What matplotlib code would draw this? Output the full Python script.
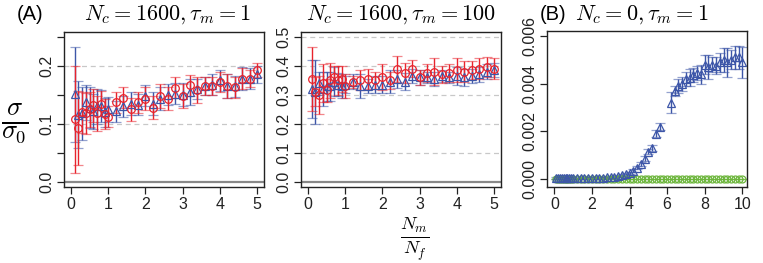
import numpy as np
import matplotlib
matplotlib.use("Agg")
import matplotlib.pyplot as plt

plt.rcParams['font.family'] = ['Liberation Sans', 'DejaVu Sans']
plt.rcParams['mathtext.fontset'] = 'cm'

# x grid for panel A (ratio Nm/Nf)
xa = [0.1, 0.2, 0.3, 0.4, 0.5, 0.6, 0.7, 0.8, 0.9, 1.0,
      1.2, 1.4, 1.6, 1.8, 2.0, 2.2, 2.4, 2.6, 2.8, 3.0,
      3.2, 3.4, 3.6, 3.8, 4.0, 4.2, 4.4, 4.6, 4.8, 5.0]

# Nc=1600, tau=1
a1_blue = [0.151, 0.116, 0.118, 0.137, 0.128, 0.122, 0.130, 0.131, 0.120, 0.125,
           0.122, 0.130, 0.135, 0.133, 0.148, 0.135, 0.143, 0.150, 0.152, 0.150,
           0.155, 0.160, 0.165, 0.167, 0.175, 0.165, 0.165, 0.178, 0.178, 0.185]
a1_blue_err = [0.082, 0.058, 0.045, 0.030, 0.035, 0.030, 0.030, 0.028, 0.025, 0.022,
               0.018, 0.018, 0.020, 0.018, 0.018, 0.020, 0.020, 0.018, 0.018, 0.020,
               0.022, 0.018, 0.015, 0.018, 0.018, 0.020, 0.018, 0.020, 0.018, 0.015]
a1_red = [0.108, 0.093, 0.120, 0.118, 0.125, 0.132, 0.118, 0.135, 0.117, 0.112,
          0.137, 0.145, 0.125, 0.137, 0.143, 0.128, 0.148, 0.143, 0.162, 0.148,
          0.166, 0.158, 0.165, 0.165, 0.172, 0.165, 0.163, 0.178, 0.178, 0.192]
a1_red_err = [0.092, 0.063, 0.035, 0.035, 0.030, 0.028, 0.030, 0.022, 0.025, 0.018,
              0.018, 0.018, 0.020, 0.018, 0.020, 0.020, 0.020, 0.020, 0.018, 0.020,
              0.018, 0.022, 0.015, 0.015, 0.018, 0.020, 0.018, 0.018, 0.015, 0.012]

# Nc=1600, tau=100
a2_blue = [0.320, 0.310, 0.340, 0.320, 0.330, 0.330, 0.345, 0.335, 0.330, 0.335,
           0.345, 0.330, 0.330, 0.335, 0.335, 0.345, 0.355, 0.345, 0.365, 0.360,
           0.360, 0.355, 0.365, 0.360, 0.365, 0.360, 0.365, 0.370, 0.380, 0.385]
a2_blue_err = [0.100, 0.110, 0.040, 0.060, 0.050, 0.050, 0.050, 0.040, 0.040, 0.030,
               0.025, 0.040, 0.025, 0.030, 0.030, 0.040, 0.030, 0.030, 0.025, 0.025,
               0.020, 0.025, 0.020, 0.020, 0.030, 0.030, 0.025, 0.025, 0.025, 0.025]
a2_red = [0.355, 0.310, 0.300, 0.340, 0.315, 0.350, 0.360, 0.350, 0.355, 0.330,
          0.345, 0.350, 0.355, 0.350, 0.360, 0.350, 0.390, 0.375, 0.390, 0.360,
          0.375, 0.380, 0.370, 0.375, 0.385, 0.380, 0.385, 0.390, 0.395, 0.390]
a2_red_err = [0.110, 0.050, 0.065, 0.065, 0.040, 0.060, 0.040, 0.050, 0.045, 0.040,
              0.020, 0.035, 0.035, 0.030, 0.045, 0.030, 0.045, 0.035, 0.030, 0.025,
              0.030, 0.045, 0.030, 0.030, 0.040, 0.035, 0.030, 0.035, 0.035, 0.035]

# panel B, Nc=0, tau=1
xb_blue = [0.1, 0.2, 0.3, 0.4, 0.5, 0.6, 0.7, 0.8, 0.9, 1.0,
           1.2, 1.4, 1.6, 1.8, 2.0, 2.2, 2.4, 2.6, 2.8, 3.0,
           3.2, 3.4, 3.6, 3.8, 4.0, 4.2, 4.4, 4.6, 4.8, 5.0,
           5.2, 5.4, 5.6, 6.2, 6.4, 6.6, 6.8, 7.0, 7.2, 7.4,
           7.6, 7.8, 8.0, 8.2, 8.4, 8.6, 8.8, 9.0, 9.2, 9.4,
           9.6, 9.8, 10.0]
b_blue = [0.00003, 0.00003, 0.00003, 0.00003, 0.00003, 0.00003, 0.00003, 0.00003, 0.00003, 0.00003,
          0.00003, 0.00003, 0.00004, 0.00004, 0.00004, 0.00005, 0.00005, 0.00006, 0.00007, 0.00008,
          0.00010, 0.00012, 0.00015, 0.00020, 0.00025, 0.00035, 0.00048, 0.00064, 0.00085, 0.00115,
          0.00130, 0.00190, 0.00220, 0.00320, 0.00370, 0.00390, 0.00400, 0.00420, 0.00425, 0.00435,
          0.00445, 0.00440, 0.00480, 0.00470, 0.00480, 0.00475, 0.00490, 0.00500, 0.00490, 0.00500,
          0.00510, 0.00510, 0.00490]
b_blue_err = [0.00004, 0.00004, 0.00004, 0.00004, 0.00004, 0.00004, 0.00004, 0.00004, 0.00004, 0.00004,
              0.00003, 0.00003, 0.00003, 0.00003, 0.00003, 0.00003, 0.00003, 0.00003, 0.00003, 0.00004,
              0.00004, 0.00004, 0.00005, 0.00005, 0.00006, 0.00007, 0.00008, 0.00009, 0.00010, 0.00012,
              0.00012, 0.00015, 0.00015, 0.00045, 0.00020, 0.00030, 0.00030, 0.00030, 0.00035, 0.00030,
              0.00030, 0.00040, 0.00040, 0.00050, 0.00030, 0.00035, 0.00040, 0.00050, 0.00060, 0.00040,
              0.00050, 0.00050, 0.00065]
xb_green = [0.1, 0.2, 0.3, 0.4, 0.5, 0.6, 0.7, 0.8, 0.9, 1.0,
            1.2, 1.4, 1.6, 1.8, 2.0, 2.2, 2.4, 2.6, 2.8, 3.0,
            3.2, 3.4, 3.6, 3.8, 4.0, 4.2, 4.4, 4.6, 4.8, 5.0,
            5.2, 5.4, 5.6, 5.8, 6.0, 6.2, 6.4, 6.6, 6.8, 7.0,
            7.2, 7.4, 7.6, 7.8, 8.0, 8.2, 8.4, 8.6, 8.8, 9.0,
            9.2, 9.4, 9.6, 9.8, 10.0]
b_green = [0.0] * len(xb_green)
b_green_err = [0.00001] * len(xb_green)

blue = '#3d56a8'
red = '#e8232c'
green = '#6bb53a'


def series(ax, x, y, err, col, marker, ms=5.5):
    line, caps, bars = ax.errorbar(x, y, yerr=err, fmt=marker, color=col, mfc='none',
                                   mec=col, ms=ms, mew=0.9, elinewidth=1.0, capsize=3.5,
                                   capthick=1.0)
    for c in caps:
        c.set_alpha(0.55)


def style(ax):
    ax.tick_params(direction='out', length=5, width=0.9, colors='#222222',
                   labelsize=11.5, pad=2)
    for s in ax.spines.values():
        s.set_color('#222222')
        s.set_linewidth(1.0)
    for lab in ax.get_yticklabels():
        lab.set_rotation(90)
        lab.set_va('center')


fig = plt.figure(figsize=(7.63, 2.63), dpi=100)
ax1 = fig.add_axes([64 / 763, 76 / 263, 200 / 763, 155 / 263])
ax2 = fig.add_axes([301 / 763, 76 / 263, 200 / 763, 155 / 263])
ax3 = fig.add_axes([547 / 763, 76 / 263, 200 / 763, 156 / 263])

# panel A left
for yv in [0.1, 0.2]:
    ax1.axhline(yv, color='#c8c8c8', ls=(0, (4, 3)), lw=0.9, zorder=0)
ax1.axhline(0, color='#888888', lw=1.6, zorder=0)
series(ax1, xa, a1_blue, a1_blue_err, blue, '^')
series(ax1, xa, a1_red, a1_red_err, red, 'o')
ax1.set_xlim(-0.19, 5.19)
ax1.set_ylim(-0.0086, 0.258)
ax1.set_xticks([0, 1, 2, 3, 4, 5])
ax1.set_yticks([0, 0.05, 0.1, 0.15, 0.2, 0.25])
ax1.set_yticklabels(['0.0', '', '0.1', '', '0.2', ''])
style(ax1)

# panel A right
for yv in [0.1, 0.2, 0.3, 0.4, 0.5]:
    ax2.axhline(yv, color='#c8c8c8', ls=(0, (4, 3)), lw=0.9, zorder=0)
ax2.axhline(0, color='#888888', lw=1.6, zorder=0)
series(ax2, xa, a2_blue, a2_blue_err, blue, '^')
series(ax2, xa, a2_red, a2_red_err, red, 'o')
ax2.set_xlim(-0.19, 5.19)
ax2.set_ylim(-0.017, 0.516)
ax2.set_xticks([0, 1, 2, 3, 4, 5])
ax2.set_yticks([0, 0.1, 0.2, 0.3, 0.4, 0.5])
ax2.set_yticklabels(['0.0', '0.1', '0.2', '0.3', '0.4', '0.5'])
style(ax2)

# panel B
series(ax3, xb_green, b_green, b_green_err, green, 'o', ms=5)
series(ax3, xb_blue, b_blue, b_blue_err, blue, '^')
ax3.set_xlim(-0.39, 10.25)
ax3.set_ylim(-0.000336, 0.00621)
ax3.set_xticks([0, 2, 4, 6, 8, 10])
ax3.set_yticks([0, 0.002, 0.004, 0.006])
ax3.set_yticklabels(['0.000', '0.002', '0.004', '0.006'])
style(ax3)

fig.text(30 / 763, 1 - 15 / 263, '(A)', fontsize=14.5, ha='center', va='center')
fig.text(167 / 763, 1 - 15 / 263, r'$N_c = 1600, \tau_m = 1$', fontsize=16,
         ha='center', va='center')
fig.text(401 / 763, 1 - 15 / 263, r'$N_c = 1600, \tau_m = 100$', fontsize=16,
         ha='center', va='center')
fig.text(553 / 763, 1 - 15 / 263, '(B)', fontsize=14.5, ha='center', va='center')
fig.text(575 / 763, 1 - 15 / 263, r'$N_c = 0, \tau_m = 1$', fontsize=16,
         ha='left', va='center')
fig.text(15 / 763, 1 - 124 / 263, r'$\frac{\sigma}{\sigma_0}$', fontsize=27,
         ha='center', va='center')
fig.text(415 / 763, 1 - 239 / 263, r'$\frac{N_m}{N_f}$', fontsize=19,
         ha='center', va='center')

fig.savefig('out.png', dpi=100)
